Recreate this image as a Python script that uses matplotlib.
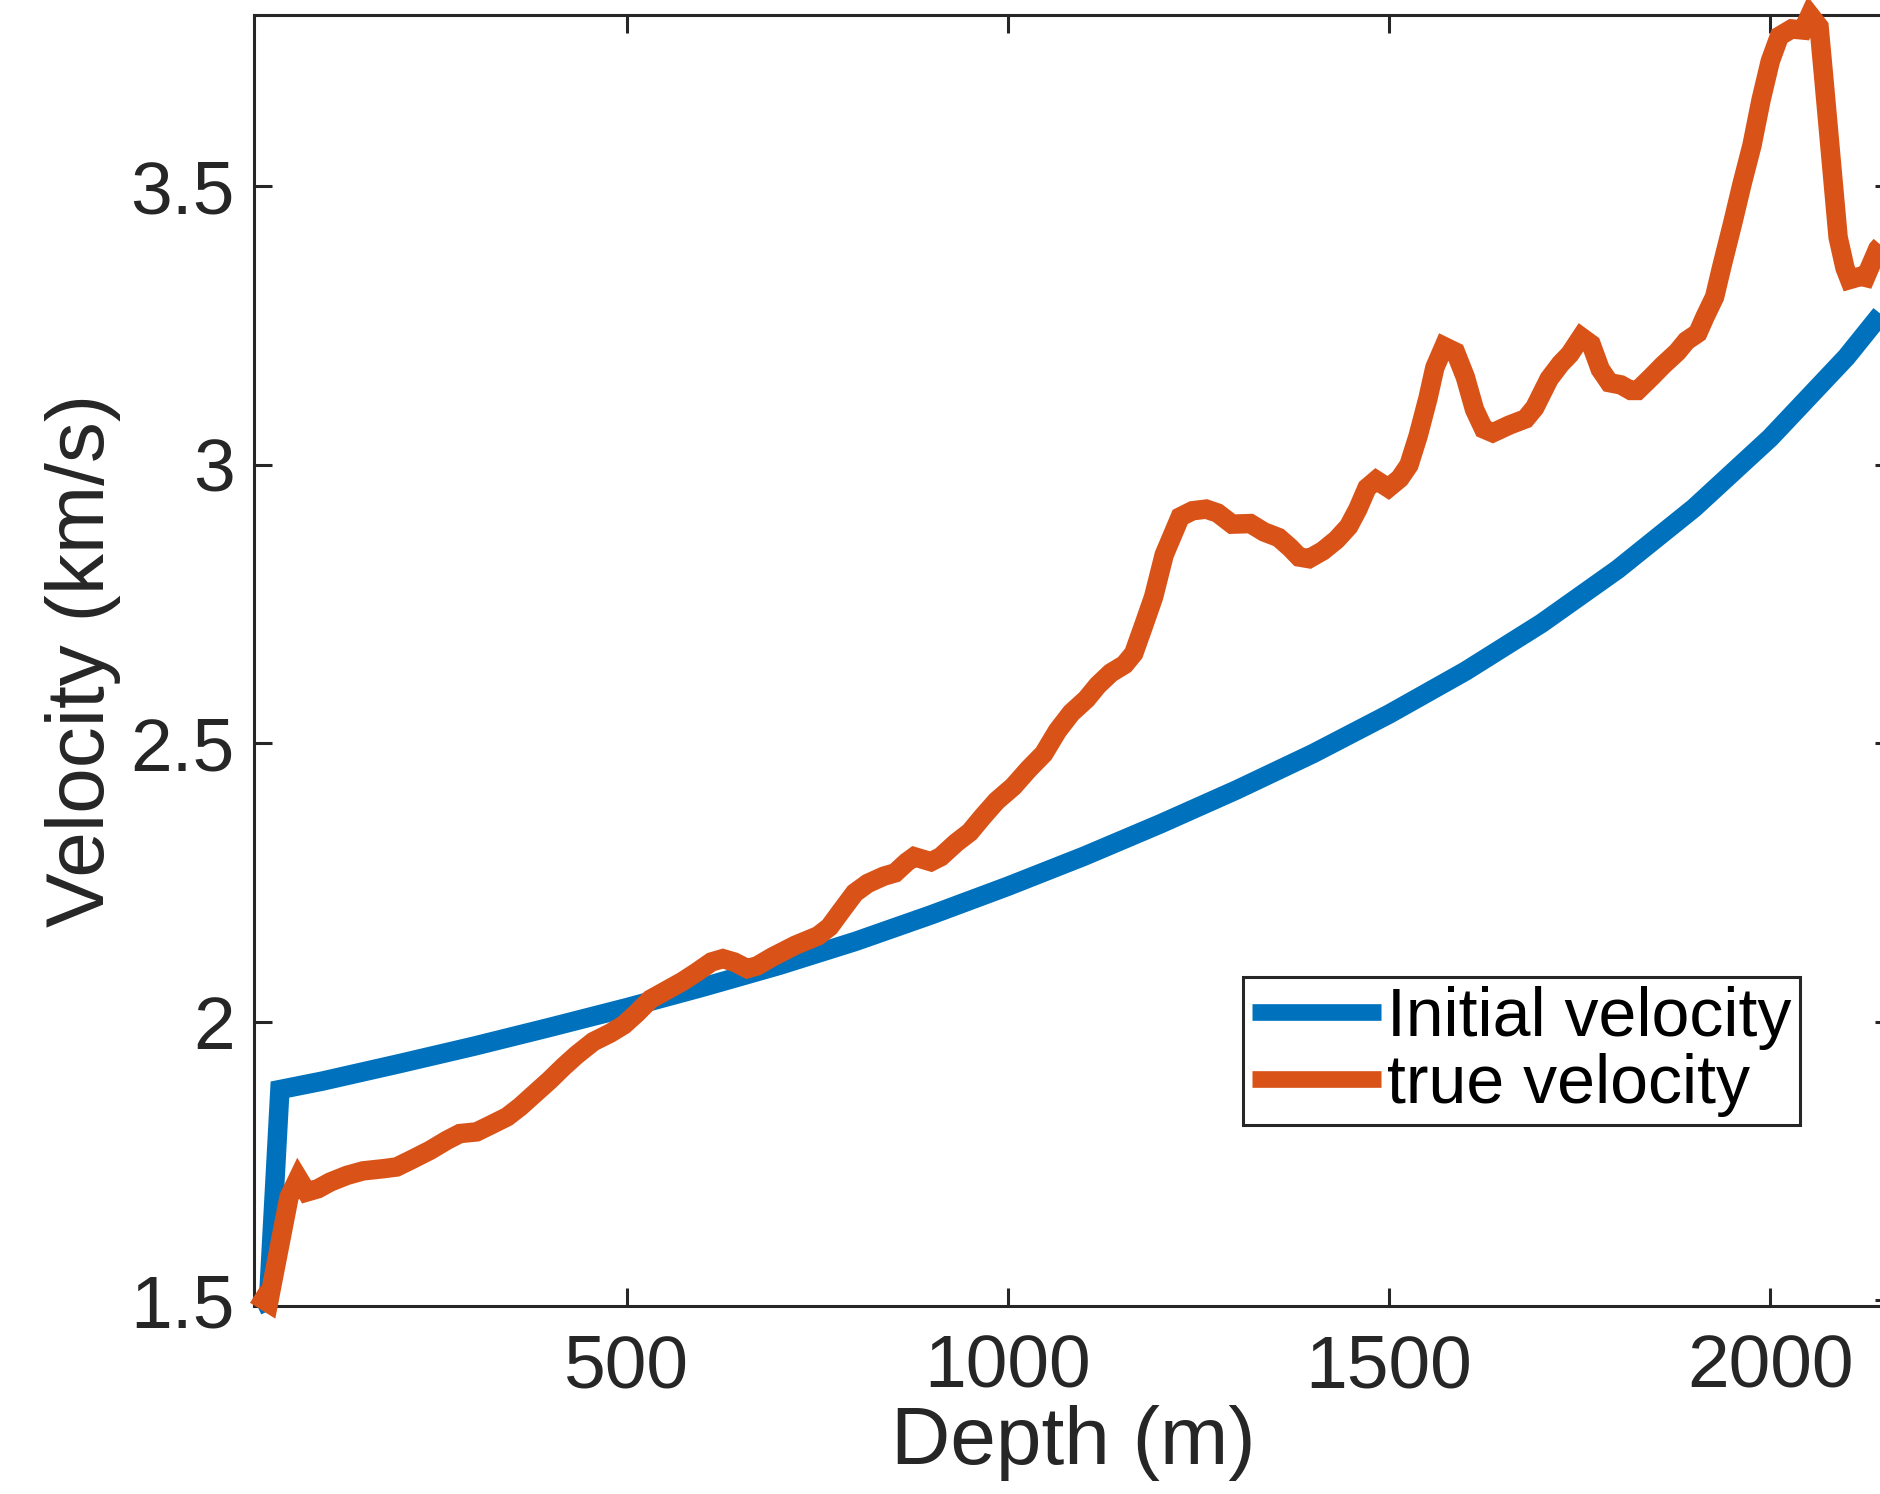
import matplotlib
matplotlib.use("Agg")
import matplotlib.pyplot as plt

# ---------------- data ----------------
init_depth = [15, 30, 45, 100, 200, 300, 400, 500, 600, 700, 800, 900, 1000,
              1100, 1200, 1300, 1400, 1500, 1600, 1700, 1800, 1900, 2000,
              2100, 2170]
init_vel = [1.49, 1.50, 1.878, 1.893, 1.924, 1.956, 1.990, 2.025, 2.062, 2.101,
            2.144, 2.192, 2.243, 2.297, 2.355, 2.416, 2.481, 2.552, 2.629,
            2.715, 2.812, 2.922, 3.048, 3.193, 3.312]

true_depth = [12.5, 30, 57, 69, 80, 95, 111, 133, 154, 181, 198, 216, 242, 264,
              281, 303, 321, 343, 360, 382, 399, 417, 434, 456, 478, 496, 513,
              531, 573, 591, 611, 626, 641, 658, 671, 691, 721, 751, 766, 781,
              799, 816, 837, 852, 867, 877, 899, 912, 932, 950, 967, 985, 1007,
              1027, 1047, 1065, 1083, 1103, 1118, 1135, 1153, 1165, 1178, 1191,
              1205, 1226, 1242, 1260, 1275, 1294, 1318, 1336, 1355, 1370, 1382,
              1395, 1413, 1431, 1447, 1459, 1471, 1483, 1499, 1514, 1526, 1538,
              1551, 1560, 1572, 1587, 1600, 1612, 1624, 1636, 1658, 1679, 1691,
              1710, 1725, 1737, 1752, 1765, 1777, 1789, 1804, 1817, 1826, 1844,
              1859, 1878, 1890, 1905, 1914, 1927, 1936, 1951, 1963, 1976, 1988,
              2000, 2012, 2028, 2043, 2052, 2064, 2070, 2080, 2089, 2098, 2104,
              2119, 2125, 2141, 2162]
true_vel = [1.510, 1.495, 1.685, 1.719, 1.694, 1.700, 1.712, 1.724, 1.732, 1.736,
            1.739, 1.751, 1.769, 1.787, 1.799, 1.802, 1.814, 1.829, 1.847, 1.874,
            1.895, 1.919, 1.940, 1.964, 1.979, 1.994, 2.015, 2.040, 2.072, 2.088,
            2.107, 2.113, 2.107, 2.095, 2.100, 2.116, 2.137, 2.154, 2.170, 2.198,
            2.231, 2.248, 2.261, 2.267, 2.286, 2.296, 2.287, 2.296, 2.321, 2.340,
            2.368, 2.396, 2.422, 2.453, 2.481, 2.522, 2.554, 2.579, 2.604, 2.626,
            2.641, 2.661, 2.711, 2.762, 2.838, 2.906, 2.917, 2.920, 2.913, 2.893,
            2.894, 2.879, 2.869, 2.851, 2.834, 2.831, 2.845, 2.865, 2.889, 2.920,
            2.958, 2.972, 2.958, 2.975, 2.999, 3.051, 3.119, 3.174, 3.212, 3.202,
            3.157, 3.099, 3.064, 3.057, 3.071, 3.082, 3.102, 3.154, 3.181, 3.198,
            3.229, 3.216, 3.171, 3.147, 3.143, 3.133, 3.133, 3.157, 3.178, 3.202,
            3.222, 3.236, 3.264, 3.301, 3.353, 3.435, 3.504, 3.573, 3.655, 3.724,
            3.769, 3.782, 3.780, 3.807, 3.786, 3.697, 3.545, 3.408, 3.353, 3.332,
            3.338, 3.336, 3.387, 3.420]

xticks = [500, 1000, 1500, 2000]
yticks = [1.5, 2.0, 2.5, 3.0, 3.5]
ytick_labels = ["1.5", "2", "2.5", "3", "3.5"]
labels = ["Initial velocity", "true velocity"]

# ---------------- style ----------------
plt.rcParams['font.family'] = ['Liberation Sans', 'DejaVu Sans']
AX = '#262626'
BLUE = '#0072BD'
ORANGE = '#D95319'

W, H = 1881, 1494
fig = plt.figure(figsize=(W / 100, H / 100), dpi=100)
left, right, top, bottom = 254.3, 1893, 15, 1305.7
ax = fig.add_axes([left / W, 1 - bottom / H, (right - left) / W, (bottom - top) / H])

l1, = ax.plot(init_depth, init_vel, color=BLUE, lw=14, zorder=3, clip_on=False,
              solid_joinstyle='miter', solid_capstyle='butt')
l2, = ax.plot(true_depth, true_vel, color=ORANGE, lw=14, zorder=3.1, clip_on=False,
              solid_joinstyle='miter', solid_capstyle='butt')

ax.set_xlim(11.4, 2161)
ax.set_ylim(1.49, 3.807)
ax.set_xticks(xticks)
ax.set_xticklabels([str(t) for t in xticks])
ax.set_yticks(yticks)
ax.set_yticklabels(ytick_labels)

for s in ax.spines.values():
    s.set_linewidth(2.2)
    s.set_color(AX)
    s.set_zorder(2.5)
ax.tick_params(direction='in', length=13, width=2.2, colors=AX, top=True,
               right=True, labelsize=54)
ax.tick_params(axis='y', pad=14)
ax.tick_params(axis='x', pad=20)
ax.set_xlabel("Depth (m)", fontsize=59, color=AX, labelpad=2)
ax.set_ylabel("Velocity (km/s)", fontsize=59, color=AX, labelpad=7)

leg = ax.legend([l1, l2], labels, loc='upper left',
                bbox_to_anchor=(1243 / W, 1 - 977 / H), bbox_transform=fig.transFigure,
                borderaxespad=0, fontsize=49, handlelength=1.9, handletextpad=0.08,
                labelspacing=0.04, borderpad=0.13, fancybox=False, framealpha=1,
                edgecolor=AX)
leg.get_frame().set_linewidth(2.2)
for h in leg.get_lines():
    h.set_linewidth(12)
leg.set_zorder(5)

fig.savefig("out.png", dpi=100)
